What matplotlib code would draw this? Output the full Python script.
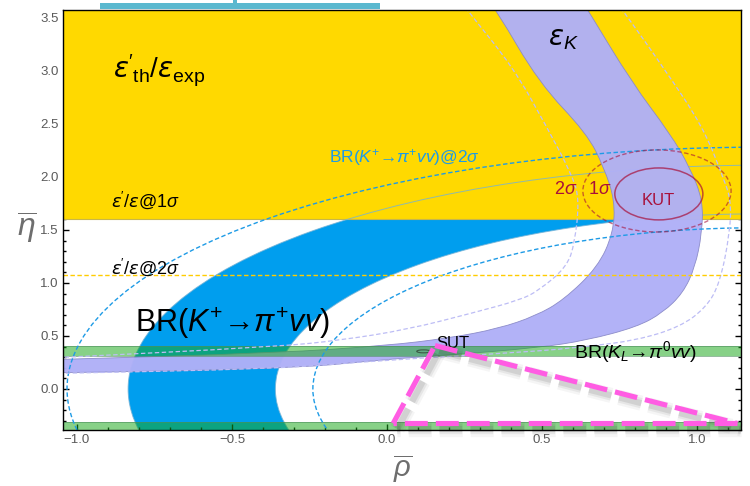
import numpy as np
import matplotlib
matplotlib.use("Agg")
import matplotlib.pyplot as plt
from matplotlib.patches import Ellipse, PathPatch, Rectangle
from matplotlib.path import Path
import matplotlib.patheffects as pe
from matplotlib.ticker import MultipleLocator

plt.rcParams["font.family"] = ["Liberation Sans", "DejaVu Sans"]
plt.rcParams["mathtext.fontset"] = "custom"
plt.rcParams["mathtext.rm"] = "Liberation Sans"
plt.rcParams["mathtext.it"] = "Liberation Sans:italic"
plt.rcParams["mathtext.bf"] = "Liberation Sans:bold"
plt.rcParams["mathtext.sf"] = "Liberation Sans"
plt.rcParams["mathtext.cal"] = "DejaVu Sans:italic"
plt.rcParams["mathtext.fallback"] = "stixsans"
plt.rcParams["lines.scale_dashes"] = False

# ---- plot ranges -------------------------------------------------------
rho_lim = (-1.045, 1.142)
eta_lim = (-0.387, 3.575)
x_major = [-1.0, -0.5, 0.0, 0.5, 1.0]
y_major = [0.0, 0.5, 1.0, 1.5, 2.0, 2.5, 3.0, 3.5]

# ---- eps'/eps lower bounds on eta --------------------------------------
epsp_1sigma = 1.6
epsp_2sigma = 1.075

# ---- K+ -> pi+ nu nu : ellipses centred on the rho axis ----------------
kp_center = (1.2, 0.0)
kp_1s_outer = (2.035, 2.111)   # semi-axes (rho, eta)
kp_1s_inner = (1.56, 1.652)
kp_2s_outer = (2.232, 2.281)
kp_2s_inner = (1.439, 1.521)

# ---- KL -> pi0 nu nu : band in |eta| ------------------------------------
kl_band = (0.31, 0.405)

# ---- eps_K band: edges (rho, eta), from the top down to the left -------
epsK_1s_upper_rho = [0.33, 0.353, 0.49, 0.645, 0.70, 0.735, 0.73, 0.68, 0.57, 0.48, 0.36, 0.2, 0.0, -0.35, -1.1]
epsK_1s_upper_eta = [3.65, 3.575, 2.89, 2.41, 2.09, 1.78, 1.47, 1.15, 0.84, 0.69, 0.57, 0.48, 0.41, 0.34, 0.275]
epsK_1s_lower_rho = [0.63, 0.648, 0.79, 0.913, 0.977, 1.019, 1.016, 0.994, 0.955, 0.89, 0.806, 0.645, 0.49, 0.2, 0.0, -0.35, -1.1]
epsK_1s_lower_eta = [3.65, 3.575, 2.89, 2.41, 2.09, 1.78, 1.47, 1.15, 0.905, 0.72, 0.585, 0.46, 0.39, 0.32, 0.28, 0.18, 0.152]
epsK_2s_upper_rho = [0.24, 0.258, 0.406, 0.516, 0.60, 0.62, 0.606, 0.58, 0.49, 0.43, 0.28, 0.065, -0.15, -0.35, -1.1]
epsK_2s_upper_eta = [3.65, 3.575, 3.04, 2.47, 2.0, 1.78, 1.38, 1.15, 0.93, 0.84, 0.72, 0.56, 0.46, 0.40, 0.29]
epsK_2s_lower_rho = [0.74, 0.76, 0.89, 1.02, 1.084, 1.11, 1.106, 1.074, 1.03, 0.945, 0.806, 0.645, 0.46, -0.02, -0.35, -1.1]
epsK_2s_lower_eta = [3.65, 3.575, 3.04, 2.47, 2.0, 1.78, 1.47, 1.0, 0.77, 0.585, 0.46, 0.40, 0.35, 0.27, 0.19, 0.145]

# ---- KUT / SUT fits ----------------------------------------------------
kut_1s_center, kut_1s_axes = (0.877, 1.84), (0.142, 0.245)
kut_2s_center, kut_2s_axes = (0.871, 1.868), (0.239, 0.387)
sut_center, sut_axes = (0.118, 0.355), (0.022, 0.014)

# ---- unitarity triangle vertices ---------------------------------------
tri_rho = [0.02, 0.155, 1.13]
tri_eta = [-0.325, 0.41, -0.325]

# ---- colours -----------------------------------------------------------
c_yellow = "#FFD900"
c_blue = "#009EEE"
c_blue_line = "#1E9BE6"
c_purple = "#B0B0F7"
c_purple_dash = "#BDBDF5"
c_green = "#1AA81A"
c_kut = "#A8103A"
c_magenta = "#FF5CE3"

EPS = r"\mathcal{\epsilon}"


def smooth_path(rho, eta):
    """Quadratic-Bezier path running along a list of vertices."""
    pts = list(zip(rho, eta))
    verts = [pts[0]]
    codes = [Path.MOVETO]
    for i in range(1, len(pts) - 1):
        mid = ((pts[i][0] + pts[i + 1][0]) / 2, (pts[i][1] + pts[i + 1][1]) / 2)
        verts += [pts[i], mid]
        codes += [Path.CURVE3, Path.CURVE3]
    verts.append(pts[-1])
    codes.append(Path.LINETO)
    return verts, codes


def ellipse_ring(center, axes, reverse=False, n=360):
    t = np.linspace(0, 2 * np.pi, n + 1)
    if reverse:
        t = t[::-1]
    x = center[0] + axes[0] * np.cos(t)
    y = center[1] + axes[1] * np.sin(t)
    verts = np.column_stack([x, y])
    codes = [Path.MOVETO] + [Path.LINETO] * (n - 1) + [Path.CLOSEPOLY]
    return verts, codes


fig = plt.figure(figsize=(7.5, 4.86), dpi=100)
ax = fig.add_axes([63 / 750, 1 - 430 / 486, 678 / 750, 420 / 486])
ax.set_xlim(*rho_lim)
ax.set_ylim(*eta_lim)

# K+ 1 sigma band (ring between two ellipses)
vo, co = ellipse_ring(kp_center, kp_1s_outer)
vi, ci = ellipse_ring(kp_center, kp_1s_inner, reverse=True)
ring = Path(np.vstack([vo, vi]), co + ci)
ax.add_patch(PathPatch(ring, fc=c_blue, lw=0, zorder=1))

# eps'/eps 1 sigma region
ax.axhspan(epsp_1sigma, eta_lim[1] + 1, color=c_yellow, lw=0, zorder=2)
ax.axhline(epsp_1sigma, color="#C8B64A", lw=0.8, zorder=2.1)

# thin outlines of the K+ band, visible through the yellow region
for ab in (kp_1s_outer, kp_1s_inner):
    ax.add_patch(Ellipse(kp_center, 2 * ab[0], 2 * ab[1], fill=False,
                         ec="#74B2D6", lw=0.7, alpha=0.8, zorder=2.5))

# eps_K 1 sigma band
v1, c1 = smooth_path(epsK_1s_upper_rho, epsK_1s_upper_eta)
v2, c2 = smooth_path(epsK_1s_lower_rho[::-1], epsK_1s_lower_eta[::-1])
c2[0] = Path.LINETO
band = Path(v1 + v2 + [v1[0]], c1 + c2 + [Path.CLOSEPOLY])
ax.add_patch(PathPatch(band, fc=c_purple, ec="#8A8AC8", lw=0.6, alpha=0.97, zorder=3))

# KL band (mirror in eta)
for lo, hi in ((kl_band[0], kl_band[1]), (-kl_band[1], -kl_band[0])):
    ax.axhspan(lo, hi, color=c_green, alpha=0.52, lw=0, zorder=4)
    for y in (lo, hi):
        ax.axhline(y, color="#4E8E5E", lw=0.6, alpha=0.7, zorder=4.1)

# 2 sigma contours
for ab in (kp_2s_outer, kp_2s_inner):
    ax.add_patch(Ellipse(kp_center, 2 * ab[0], 2 * ab[1], fill=False,
                         ec=c_blue_line, lw=1.0, ls=(0, (3.2, 1.8)), zorder=5))
for rr, ee in ((epsK_2s_upper_rho, epsK_2s_upper_eta), (epsK_2s_lower_rho, epsK_2s_lower_eta)):
    v, c = smooth_path(rr, ee)
    ax.add_patch(PathPatch(Path(v, c), fill=False, ec=c_purple_dash, lw=0.9,
                           ls=(0, (3.2, 1.8)), zorder=5))
ax.axhline(epsp_2sigma, color="#FFCC00", lw=1.0, ls=(0, (3.2, 1.8)), zorder=5)

# KUT and SUT
ax.add_patch(Ellipse(kut_1s_center, 2 * kut_1s_axes[0], 2 * kut_1s_axes[1], fill=False,
                     ec=c_kut, lw=1.1, alpha=0.7, zorder=6))
ax.add_patch(Ellipse(kut_2s_center, 2 * kut_2s_axes[0], 2 * kut_2s_axes[1], fill=False,
                     ec=c_kut, lw=1.0, alpha=0.6, ls=(0, (3.2, 1.8)), zorder=6))
ax.add_patch(Ellipse(sut_center, 2 * sut_axes[0], 2 * sut_axes[1], fill=False,
                     ec="#3C5A46", lw=0.8, zorder=6))

# labels
ax.text(-0.735, 3.0, r"$%s'_{\mathrm{th}}/%s_{\mathrm{exp}}$" % (EPS, EPS), fontsize=20,
        ha="center", va="center", zorder=7)
ax.text(0.57, 3.3, r"$%s_K$" % EPS, fontsize=20, ha="center", va="center", zorder=7)
ax.text(-0.78, 1.78, r"$%s'/%s$@1$\sigma$" % (EPS, EPS), fontsize=13,
        ha="center", va="center", zorder=7)
ax.text(-0.78, 1.15, r"$%s'/%s$@2$\sigma$" % (EPS, EPS), fontsize=13,
        ha="center", va="center", zorder=7)
ax.text(0.055, 2.18, r"BR($K^{+}$→$\pi^{+}vv$)@2$\sigma$", fontsize=12.5,
        color="#1E9BE6", ha="center", va="center", zorder=7)
ax.text(-0.5, 0.62, r"BR($K^{+}$→$\pi^{+}vv$)", fontsize=22,
        ha="center", va="center", zorder=7)
ax.text(0.8, 0.35, r"BR($K_{L}$→$\pi^{0}vv$)", fontsize=14,
        ha="center", va="center", zorder=7)
ax.text(0.213, 0.43, "SUT", fontsize=12, ha="center", va="center", zorder=7)
ax.text(0.874, 1.78, "KUT", fontsize=12, color=c_kut, ha="center", va="center", zorder=7)
ax.text(0.577, 1.88, r"2$\sigma$", fontsize=13, color=c_kut, ha="center", va="center", zorder=7)
ax.text(0.687, 1.88, r"1$\sigma$", fontsize=13, color=c_kut, ha="center", va="center", zorder=7)

# unitarity triangle with a soft shadow
shadow = [pe.SimpleLineShadow(offset=(3, -4), shadow_color="0.25", alpha=0.05, linewidth=11),
          pe.SimpleLineShadow(offset=(3, -4), shadow_color="0.25", alpha=0.08, linewidth=7.5),
          pe.SimpleLineShadow(offset=(3, -4), shadow_color="0.25", alpha=0.12, linewidth=4.5),
          pe.Normal()]
for i, j in ((0, 1), (1, 2), (2, 0)):
    ax.plot([tri_rho[i], tri_rho[j]], [tri_eta[i], tri_eta[j]], color=c_magenta, lw=3.7,
            dashes=(16.5, 5.8), solid_capstyle="butt", clip_on=False, zorder=8,
            path_effects=shadow)

# frame and ticks
ax.set_xticks(x_major)
ax.set_yticks(y_major)
ax.xaxis.set_minor_locator(MultipleLocator(0.1))
ax.yaxis.set_minor_locator(MultipleLocator(0.1))
ax.tick_params(which="both", direction="in", top=True, right=True, colors="black",
               labelcolor="#5A5A5A", labelsize=9.5, width=1.0)
ax.tick_params(which="major", length=4.5, pad=3)
ax.tick_params(which="minor", length=2.5)
for s in ax.spines.values():
    s.set_linewidth(1.0)
    s.set_zorder(9)

fig.text(403 / 750, 1 - 477 / 486, r"$\overline{\rho}$", fontsize=21, color="#6E6E6E",
         ha="center", va="baseline")
fig.text(27 / 750, 1 - 228 / 486, r"$\overline{\eta}$", fontsize=23, color="#6E6E6E",
         ha="center", va="center")

# teal tab along the top edge
fig.add_artist(Rectangle((100 / 750, 1 - 9 / 486), 280 / 750, 6 / 486,
                         transform=fig.transFigure, color="#5AB8CF", lw=0))
fig.add_artist(Rectangle((233 / 750, 1 - 4 / 486), 4 / 750, 4 / 486,
                         transform=fig.transFigure, color="#5AB8CF", lw=0))

fig.savefig("out.png", dpi=100)
